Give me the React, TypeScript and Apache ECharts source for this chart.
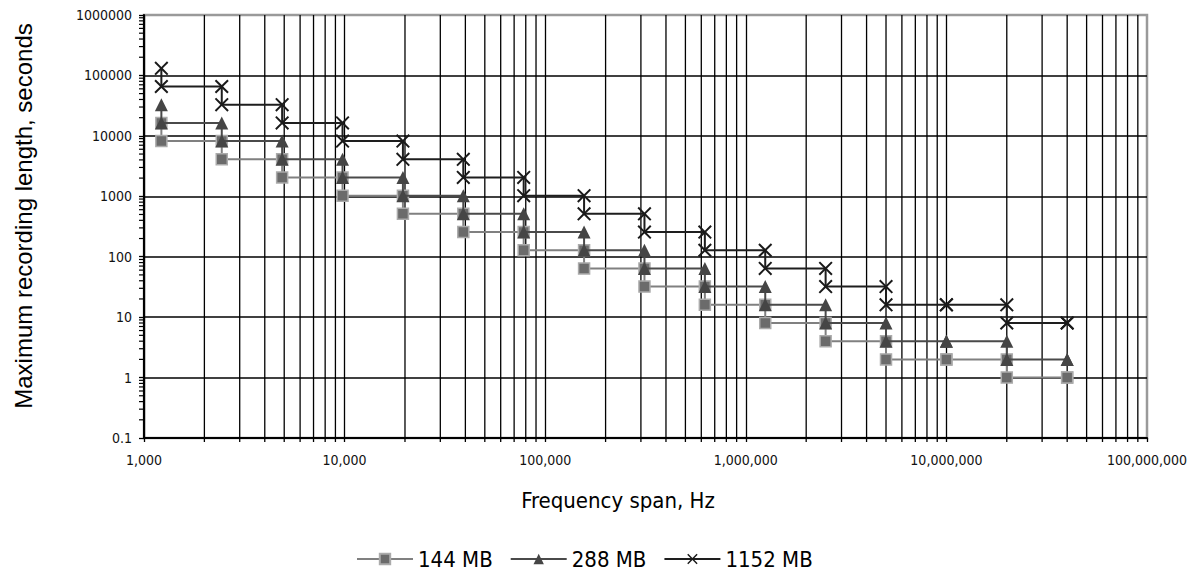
import React, { useEffect, useRef } from "react";
import * as echarts from "echarts";

// Frequency spans (Hz), one per step
const spansHz = [
  1220.703125, 2441.40625, 4882.8125, 9765.625, 19531.25, 39062.5, 78125, 156250,
  312500, 625000, 1250000, 2500000, 5000000, 10000000, 20000000, 40000000,
];

// Recording length (s): upper and lower point at each span
const mb144Hi = [16384, 8192, 4096, 2048, 1024, 512, 256, 128, 64, 32, 16, 8, 4, 2, 2, 1];
const mb144Lo = [8192, 4096, 2048, 1024, 512, 256, 128, 64, 32, 16, 8, 4, 2, 2, 1, 1];
const mb288Hi = [32768, 16384, 8192, 4096, 2048, 1024, 512, 256, 128, 64, 32, 16, 8, 4, 4, 2];
const mb288Lo = [16384, 8192, 4096, 2048, 1024, 512, 256, 128, 64, 32, 16, 8, 4, 4, 2, 2];
const mb1152Hi = [131072, 65536, 32768, 16384, 8192, 4096, 2048, 1024, 512, 256, 128, 64, 32, 16, 16, 8];
const mb1152Lo = [65536, 32768, 16384, 8192, 4096, 2048, 1024, 512, 256, 128, 64, 32, 16, 16, 8, 8];

const seriesNames = ["144 MB", "288 MB", "1152 MB"];

// Axis ranges and minor tick positions
const xMin = 1000;
const xMax = 100000000;
const yMin = 0.1;
const yMax = 1000000;
const xDecades = [1e3, 1e4, 1e5, 1e6, 1e7];
const yDecades = [0.1, 1, 10, 100, 1000, 10000, 100000];
const minorSteps = [2, 3, 4, 5, 6, 7, 8, 9];
const xMinor = xDecades.flatMap((d) => minorSteps.map((m) => d * m));
const yMinor = yDecades.flatMap((d) => minorSteps.map((m) => +(d * m).toPrecision(6)));

const TICK_FONT = "'DejaVu Sans Condensed', 'Liberation Sans Narrow', sans-serif";
const X_SYMBOL =
  "path://M2,0 L10,8 L18,0 L20,2 L12,10 L20,18 L18,20 L10,12 L2,20 L0,18 L8,10 L0,2 Z";

function steps(hi: number[], lo: number[]) {
  return spansHz.flatMap((x, i) => [
    [x, hi[i]],
    [x, lo[i]],
  ]);
}

export default function App() {
  const ref = useRef<HTMLDivElement>(null);

  useEffect(() => {
    if (!ref.current) return;
    const chart = echarts.init(ref.current, null, { renderer: "svg" });

    const option: any = {
      animation: false,
      backgroundColor: "#ffffff",
      grid: {
        left: 144,
        right: 48,
        top: 15,
        bottom: 139,
        show: true,
        borderColor: "#9a9a9a",
        borderWidth: 2.5,
        backgroundColor: "transparent",
        outerBoundsMode: "none",
      },
      xAxis: {
        type: "log",
        logBase: 10,
        min: xMin,
        max: xMax,
        splitNumber: 5,
        axisLine: { show: true, lineStyle: { color: "#000", width: 2 } },
        axisTick: { show: true, length: 4, inside: false, lineStyle: { color: "#000", width: 1.3 } },
        axisLabel: {
          margin: 15,
          color: "#111",
          fontSize: 14,
          fontFamily: TICK_FONT,
          formatter: (v: number) => Math.round(v).toLocaleString("en-US"),
        },
        splitLine: {
          show: true,
          showMinLine: false,
          showMaxLine: false,
          lineStyle: { color: "#000", width: 1.3 },
        },
      },
      yAxis: {
        type: "log",
        logBase: 10,
        min: yMin,
        max: yMax,
        splitNumber: 7,
        axisLine: { show: true, lineStyle: { color: "#000", width: 2 } },
        axisTick: { show: true, length: 5, inside: false, lineStyle: { color: "#000", width: 1.3 } },
        axisLabel: {
          margin: 12,
          color: "#111",
          fontSize: 14,
          fontFamily: TICK_FONT,
          formatter: (v: number) => (v >= 1 ? String(Math.round(v)) : String(+v.toPrecision(3))),
        },
        splitLine: {
          show: true,
          showMinLine: false,
          showMaxLine: false,
          lineStyle: { color: "#000", width: 1.5 },
        },
      },
      legend: {
        data: seriesNames,
        left: 351,
        top: 543,
        itemWidth: 56,
        itemHeight: 13,
        itemGap: 17,
        textStyle: { fontSize: 22, fontFamily: TICK_FONT, color: "#000" },
      },
      graphic: [
        {
          type: "text",
          x: 23,
          y: 216,
          rotation: Math.PI / 2,
          style: {
            text: "Maximum recording length, seconds",
            fontSize: 24,
            fontFamily: "'Liberation Sans', Arial, sans-serif",
            fill: "#000",
            align: "center",
            verticalAlign: "middle",
            textAlign: "center",
            textVerticalAlign: "middle",
          },
        },
        {
          type: "text",
          x: 618,
          y: 500,
          style: {
            text: "Frequency span, Hz",
            fontSize: 22,
            fontFamily: TICK_FONT,
            fill: "#000",
            align: "center",
            verticalAlign: "middle",
            textAlign: "center",
            textVerticalAlign: "middle",
          },
        },
      ],
      series: [
        {
          name: "xMinor",
          type: "custom",
          coordinateSystem: "cartesian2d",
          silent: true,
          z: 1,
          data: xMinor.map((v) => [v, 1]),
          renderItem: (_p: any, api: any) => {
            const x = api.value(0);
            const top = api.coord([x, yMax]);
            const bot = api.coord([x, yMin]);
            return {
              type: "line",
              shape: { x1: top[0], y1: top[1], x2: bot[0], y2: bot[1] + 4 },
              style: { stroke: "#000", lineWidth: 1.3 },
            };
          },
        },
        {
          name: "yMinor",
          type: "custom",
          coordinateSystem: "cartesian2d",
          silent: true,
          z: 1,
          data: yMinor.map((v) => [xMin, v]),
          renderItem: (_p: any, api: any) => {
            const y = api.value(1);
            const p = api.coord([xMin, y]);
            return {
              type: "line",
              shape: { x1: p[0] - 5, y1: p[1], x2: p[0], y2: p[1] },
              style: { stroke: "#000", lineWidth: 1.2 },
            };
          },
        },
        {
          name: "144 MB",
          type: "line",
          data: steps(mb144Hi, mb144Lo),
          symbol: "rect",
          symbolSize: 11,
          lineStyle: { color: "#808080", width: 2 },
          itemStyle: { color: "#6b6b6b", borderColor: "#ababab", borderWidth: 1.5 },
          z: 3,
        },
        {
          name: "288 MB",
          type: "line",
          data: steps(mb288Hi, mb288Lo),
          symbol: "triangle",
          symbolSize: 13,
          lineStyle: { color: "#4a4a4a", width: 2 },
          itemStyle: { color: "#454545" },
          z: 4,
        },
        {
          name: "1152 MB",
          type: "line",
          data: steps(mb1152Hi, mb1152Lo),
          symbol: X_SYMBOL,
          symbolSize: 14,
          lineStyle: { color: "#1e1e1e", width: 2 },
          itemStyle: { color: "#1a1a1a" },
          z: 5,
        },
      ],
    };

    chart.setOption(option);
    return () => chart.dispose();
  }, []);

  return (
    <div
      ref={ref}
      style={{ position: "fixed", left: 0, top: 0, width: 1195, height: 577, background: "#fff" }}
    />
  );
}
